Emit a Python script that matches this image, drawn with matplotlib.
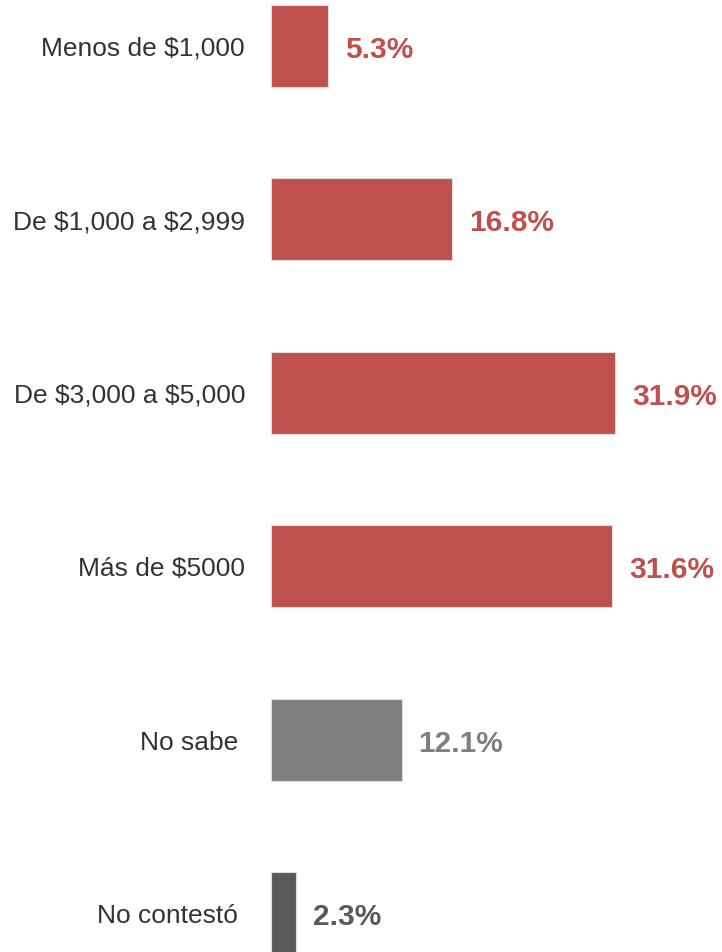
import matplotlib.pyplot as plt
import numpy as np

# Ingreso mensual (encuesta)
categories = ["Menos de \\$1,000", "De \\$1,000 a \\$2,999", "De \\$3,000 a \\$5,000",
              "Más de \\$5000", "No sabe", "No contestó"]
values = [5.3, 16.8, 31.9, 31.6, 12.1, 2.3]
value_labels = ["5.3%", "16.8%", "31.9%", "31.6%", "12.1%", "2.3%"]

red = "#C0504D"
colors = [red, red, red, red, "#7F7F7F", "#595959"]
# label gap from the bar start, in pixels
label_gap = [26, 26, 26, 26, 33, 33]

plt.rcParams['font.family'] = ['Liberation Sans', 'DejaVu Sans']

fig = plt.figure(figsize=(7.22, 9.53), dpi=100)
ax = fig.add_axes([271 / 722, 0, 1 - 271 / 722, 1])

y = np.arange(len(categories))
ax.barh(y, values, height=0.473, color=colors, edgecolor="#dddddd",
        linewidth=0.8)

ax.set_xlim(0, 41.8)
ax.set_ylim(5.225, -0.271)
ax.axis("off")

for i, (v, lab, c) in enumerate(zip(values, value_labels, colors)):
    ax.annotate(lab, (v, i), xytext=(17, -3), textcoords="offset pixels",
                ha="left", va="center", fontsize=21.5, fontweight="bold",
                color=c)
    ax.annotate(categories[i], (0, i), xytext=(-label_gap[i], -2),
                textcoords="offset pixels", ha="right", va="center",
                fontsize=19, color="#333333", annotation_clip=False)

fig.savefig("out.png", dpi=100, facecolor="white")
